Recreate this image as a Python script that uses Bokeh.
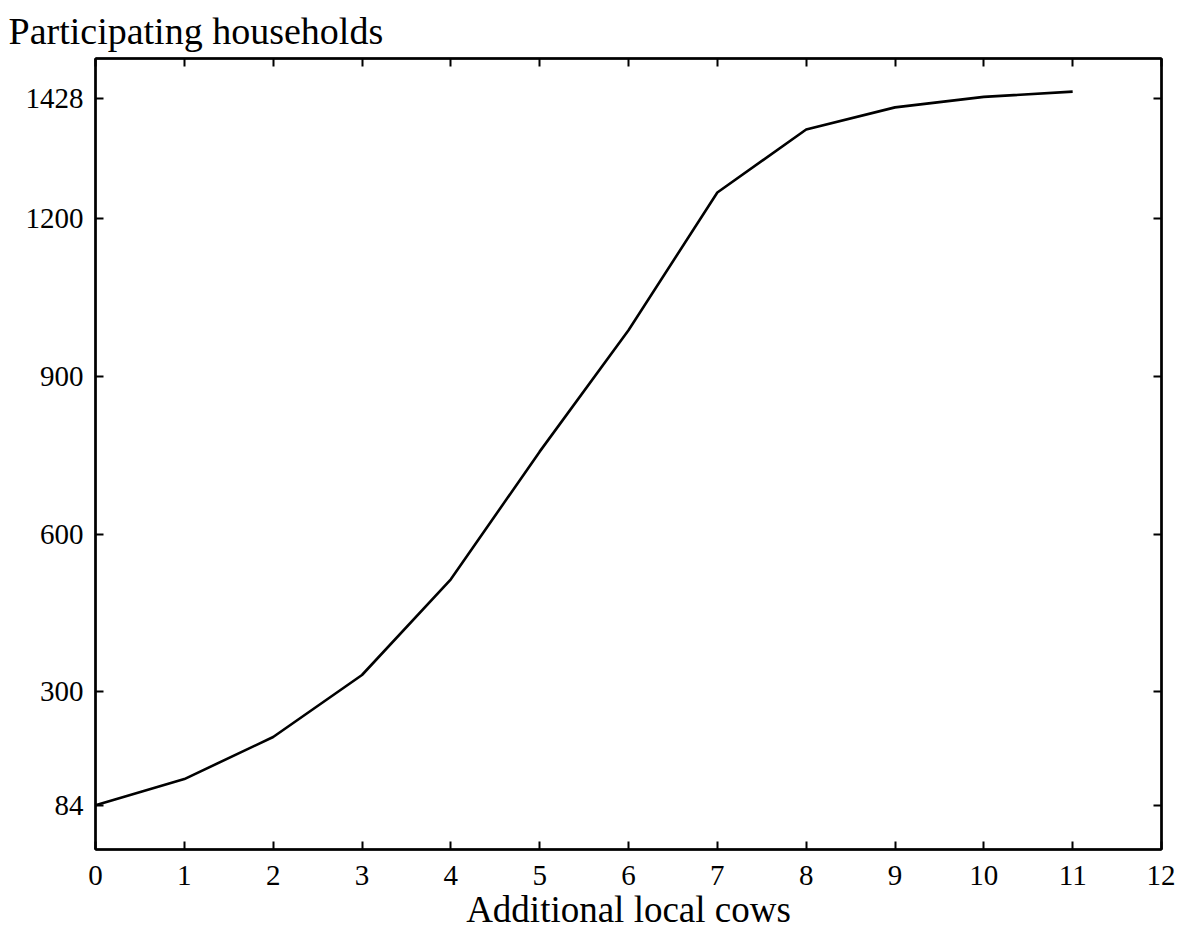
from bokeh.plotting import figure
from bokeh.models import LinearAxis, FixedTicker, Range1d, Title, CustomJSTickFormatter
from bokeh.embed import file_html
from bokeh.resources import INLINE

cows = [0, 1, 2, 3, 4, 5, 6, 7, 8, 9, 10, 11]
households = [84, 134, 214, 332, 514, 757, 988, 1250, 1370, 1412, 1432, 1442]
x_ticks = list(range(0, 13))
y_ticks = [84, 300, 600, 900, 1200, 1428]
x_title = "Additional local cows"
y_title = "Participating households"

FONT = "Liberation Serif"

p = figure(width=1175, height=933, output_backend="svg", toolbar_location=None,
           x_range=Range1d(0, 12), y_range=Range1d(0, 1505),
           min_border_left=95, min_border_right=14, min_border_top=57, min_border_bottom=84,
           x_axis_location="below", y_axis_location="left")
p.grid.visible = False
p.outline_line_color = "black"
p.outline_line_width = 2
p.background_fill_color = "white"
p.border_fill_color = "white"

p.line(cows, households, line_color="black", line_width=2.6)

def style(ax, labels=True):
    ax.axis_line_color = "black"
    ax.axis_line_width = 2.5
    ax.major_tick_in = 8
    ax.major_tick_out = 0
    ax.major_tick_line_width = 2
    ax.major_tick_line_color = "black"
    ax.minor_tick_line_color = None
    ax.major_label_text_font = FONT
    ax.major_label_text_color = "black"
    ax.major_label_text_font_size = "29px"
    if not labels:
        ax.formatter = CustomJSTickFormatter(code="return ''")
        ax.major_label_standoff = 0

p.xaxis.ticker = FixedTicker(ticks=x_ticks)
p.yaxis.ticker = FixedTicker(ticks=y_ticks)
style(p.xaxis[0])
style(p.yaxis[0])
p.xaxis.major_label_standoff = 16
p.yaxis.major_label_standoff = 12
p.xaxis.axis_label = x_title
p.xaxis.axis_label_text_font = FONT
p.xaxis.axis_label_text_font_size = "37px"
p.xaxis.axis_label_text_font_style = "normal"
p.xaxis.axis_label_text_color = "black"
p.xaxis.axis_label_standoff = 1

top = LinearAxis(ticker=FixedTicker(ticks=x_ticks))
style(top, labels=False)
p.add_layout(top, "above")
right = LinearAxis(ticker=FixedTicker(ticks=y_ticks))
style(right, labels=False)
p.add_layout(right, "right")

t = Title(text=y_title, align="left", offset=-87,
          text_font=FONT, text_font_size="38px", text_font_style="normal",
          text_color="black", standoff=14, text_line_height=0.75)
p.add_layout(t, "above")

open("out.html", "w").write(file_html(p, INLINE))
